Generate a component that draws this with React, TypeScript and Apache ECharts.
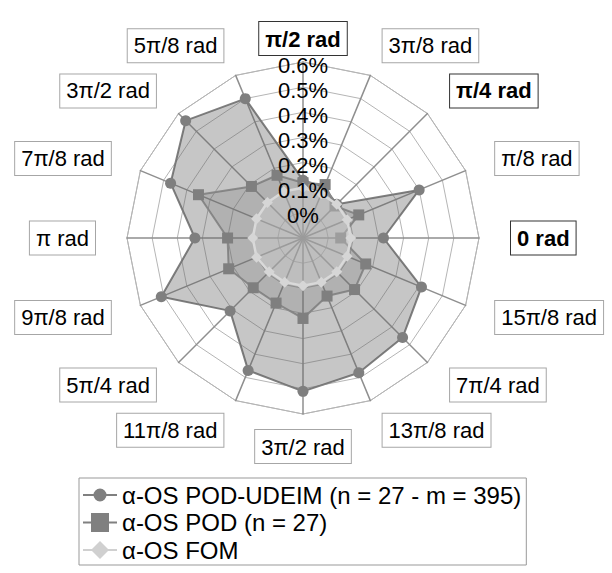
import React, { useEffect, useRef } from 'react';
import * as echarts from 'echarts';

const axisNames = [
  '0 rad', 'π/8 rad', 'π/4 rad', '3π/8 rad', 'π/2 rad', '5π/8 rad', '3π/2 rad', '7π/8 rad',
  'π rad', '9π/8 rad', '5π/4 rad', '11π/8 rad', '3π/2 rad', '13π/8 rad', '7π/4 rad', '15π/8 rad',
];
const boldAxes = [0, 2, 4];
const axisMin = -0.1;
const axisMax = 0.6;

const seriesNames = [
  'α-OS POD-UDEIM (n = 27 - m = 395)',
  'α-OS POD (n = 27)',
  'α-OS FOM',
];
const udeimValues = [0.22, 0.4, 0.09, 0.12, 0.13, 0.5, 0.56, 0.47, 0.33, 0.51, 0.31, 0.47, 0.51, 0.48, 0.46, 0.41];
const podValues = [0.05, 0.14, 0.08, 0.13, 0.12, 0.17, 0.19, 0.35, 0.2, 0.22, 0.18, 0.18, 0.22, 0.15, 0.19, 0.17];
const fomValues = [0.09, 0.09, 0.09, 0.09, 0.1, 0.1, 0.1, 0.1, 0.1, 0.1, 0.09, 0.09, 0.09, 0.09, 0.09, 0.09];

const FONT = "'Liberation Sans', Arial, sans-serif";

const iconCircle = 'path://M0,0M34,20M0,9L34,9L34,11L0,11ZM23.5,10A6.5,6.5,0,1,1,10.5,10A6.5,6.5,0,1,1,23.5,10Z';
const iconSquare = 'path://M0,0M34,20M0,9L8,9L8,0.5L26,0.5L26,9L34,9L34,11L26,11L26,19.5L8,19.5L8,11L0,11Z';
const iconDiamond = 'path://M0,0M34,20M0,9L9,9L17,1L25,9L34,9L34,11L25,11L17,19L9,11L0,11Z';

export default function App() {
  const ref = useRef<HTMLDivElement>(null);
  useEffect(() => {
    if (!ref.current) return;
    const chart = echarts.init(ref.current, undefined, { renderer: 'svg' });
    const center = [303, 238];
    const labelCenter = [303, 241];
    const radius = 176;
    const option: any = {
      animation: false,
      backgroundColor: '#fff',
      radar: [
        {
          center,
          radius,
          startAngle: 0,
          splitNumber: 7,
          shape: 'polygon',
          z: 0,
          indicator: axisNames.map((n, i) => {
            const bold = boldAxes.includes(i);
            return {
              name: n,
              min: axisMin,
              max: axisMax,
              nameGap: i === 4 ? 7 : i === 12 ? 16 : 32,
              nameTextStyle: bold
                ? { fontWeight: 'bold', borderColor: '#333' }
                : { fontWeight: 'normal', borderColor: '#a6a6a6' },
            };
          }),
          axisName: {
            color: '#000',
            fontSize: 22,
            fontFamily: FONT,
            borderWidth: 1,
            borderColor: '#a6a6a6',
            padding: [6, 6, 5, 6],
            backgroundColor: '#fff',
          },
          axisLine: { lineStyle: { color: '#8f8f8f', width: 1.5 } },
          splitLine: { lineStyle: { color: '#b5b5b5', width: 1 } },
          splitArea: { show: false },
          axisTick: { show: false },
          axisLabel: { show: false },
        },
        {
          center: labelCenter,
          radius,
          startAngle: 0,
          splitNumber: 7,
          shape: 'polygon',
          z: 10,
          indicator: axisNames.map((n, i) => ({
            name: '',
            min: axisMin,
            max: axisMax,
            axisLabel:
              i === 4
                ? {
                    show: true,
                    color: '#000',
                    fontSize: 22,
                    fontFamily: FONT,
                    margin: 0,
                    align: 'center',
                    verticalAlign: 'middle',
                    formatter: (v: number) => (v < -0.05 ? '' : `${+v.toFixed(1)}%`),
                  }
                : { show: false },
          })),
          axisName: { show: false },
          axisLine: { show: false },
          splitLine: { show: false },
          splitArea: { show: false },
          axisTick: { show: false },
          axisLabel: { show: false },
        },
      ],
      legend: {
        orient: 'vertical',
        left: 79,
        top: 478,
        padding: [5, 5, 3, 4],
        itemGap: 3.5,
        itemWidth: 34,
        itemHeight: 20,
        borderColor: '#999',
        borderWidth: 1,
        selectedMode: false,
        textStyle: { fontSize: 24, color: '#000', fontFamily: FONT, lineHeight: 24 },
        data: [
          { name: seriesNames[0], icon: iconCircle, itemStyle: { color: '#808080', borderWidth: 0 } },
          { name: seriesNames[1], icon: iconSquare, itemStyle: { color: '#808080', borderWidth: 0 } },
          { name: seriesNames[2], icon: iconDiamond, itemStyle: { color: '#d0d0d0', borderWidth: 0 } },
        ],
      },
      series: [
        {
          type: 'radar',
          radarIndex: 0,
          name: seriesNames[0],
          z: 2,
          symbol: 'circle',
          symbolSize: 11,
          itemStyle: { color: '#7f7f7f' },
          lineStyle: { color: '#808080', width: 2 },
          areaStyle: { color: 'rgba(100,100,100,0.52)' },
          data: [{ name: seriesNames[0], value: udeimValues }],
        },
        {
          type: 'radar',
          radarIndex: 0,
          name: seriesNames[1],
          z: 3,
          symbol: 'rect',
          symbolSize: 11,
          itemStyle: { color: '#7f7f7f' },
          lineStyle: { color: '#8a8a8a', width: 2 },
          areaStyle: { color: 'rgba(110,110,110,0.35)' },
          data: [{ name: seriesNames[1], value: podValues }],
        },
        {
          type: 'radar',
          radarIndex: 0,
          name: seriesNames[2],
          z: 4,
          symbol: 'diamond',
          symbolSize: 11,
          itemStyle: { color: '#d6d6d6' },
          lineStyle: { color: '#dadada', width: 2.5 },
          areaStyle: { color: 'rgba(215,215,215,0.5)' },
          data: [{ name: seriesNames[2], value: fomValues }],
        },
      ],
    };
    chart.setOption(option);
    return () => chart.dispose();
  }, []);
  return (
    <div
      ref={ref}
      style={{ position: 'absolute', left: 0, top: 0, width: 612, height: 573 }}
    />
  );
}
